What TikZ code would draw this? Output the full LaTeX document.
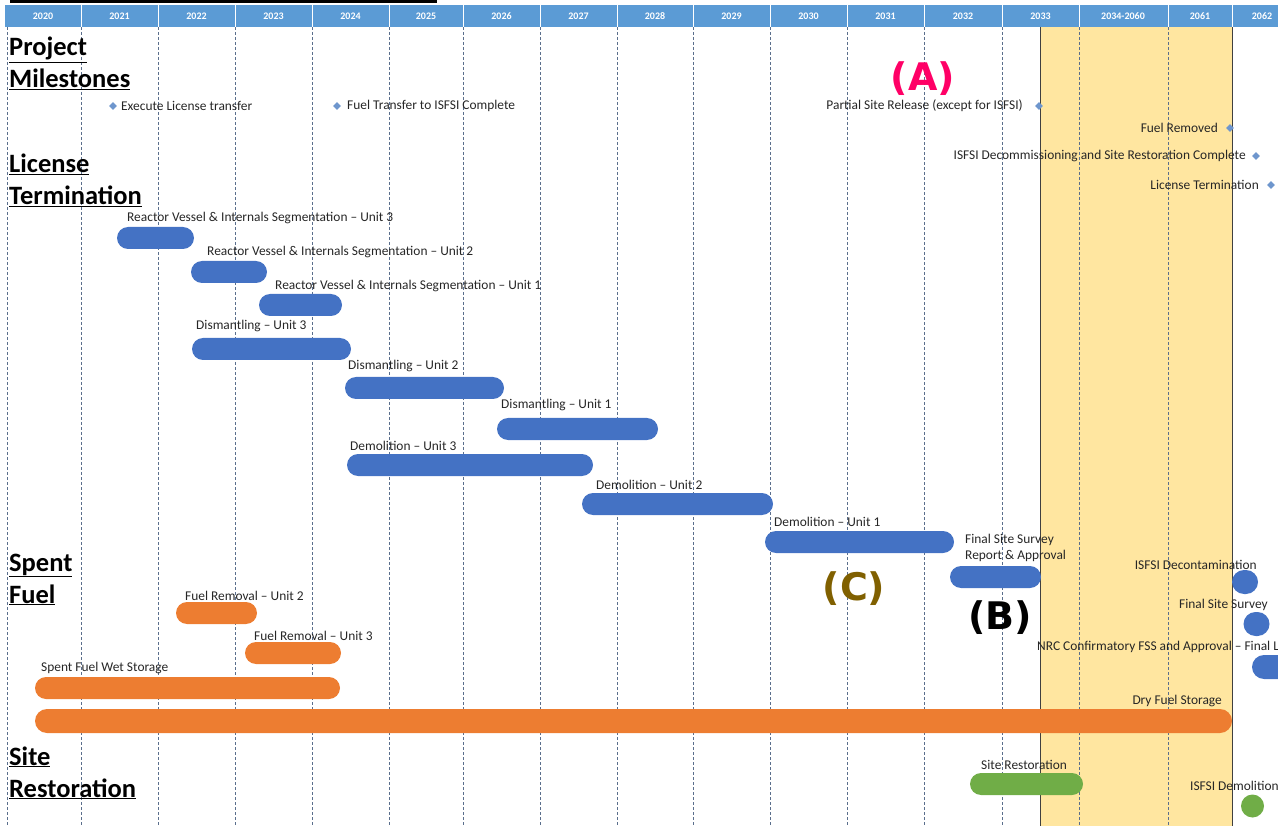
\documentclass[tikz,border=0pt]{standalone}
\usepackage{fontspec}
\setmainfont{Carlito}
\newfontfamily\tagfont{DejaVu Sans}
\usetikzlibrary{shapes.geometric,positioning}
\definecolor{hdrblue}{RGB}{91,155,213}
\definecolor{barblue}{RGB}{68,114,196}
\definecolor{barorange}{RGB}{237,125,49}
\definecolor{bargreen}{RGB}{112,173,71}
\definecolor{mileblue}{RGB}{110,150,205}
\definecolor{bandyellow}{RGB}{255,230,160}
\definecolor{gridgrey}{RGB}{90,110,140}
\definecolor{tagpink}{RGB}{255,0,102}
\definecolor{tagbrown}{RGB}{128,96,0}

\begin{document}
\begin{tikzpicture}[x=1pt, y=-1pt,
    gbar/.style={rectangle, rounded corners=11pt, minimum height=22pt, inner sep=0pt},
    blob/.style={rectangle, rounded corners=12pt, minimum height=24pt, minimum width=26pt, inner sep=0pt},
    lbl/.style={font=\fontsize{13.4}{16}\selectfont, inner sep=0pt, text=black!85},
    head/.style={font=\fontsize{26.5}{32}\selectfont\bfseries, align=left, inner sep=0pt, anchor=base west},
    mile/.style={diamond, fill=mileblue, minimum size=8pt, inner sep=0pt},
    yearlbl/.style={font=\fontsize{10}{11}\selectfont\bfseries, text=white},
    tagmark/.style={font=\tagfont\bfseries\fontsize{38}{40}\selectfont, inner sep=0pt},
    yearline/.style={gridgrey, line width=0.7pt, dash pattern=on 3pt off 2pt}]
\useasboundingbox (0,0) rectangle (1278,826);
% cut title rule at the very top
\draw[line width=3.5pt] (10,1.5) -- (437,1.5);
% 2033-2061 band
\fill[bandyellow] (1040,27) rectangle (1232,826);
% year grid
\foreach \gx in {7,81,158,235,312,389,463,540,617,693,770,847,924,1002,1079,1168}
  \draw[yearline] (\gx,27) -- (\gx,826);
\draw[black!75, line width=0.8pt] (1040,27) -- (1040,826);
\draw[black!75, line width=0.8pt] (1232,27) -- (1232,826);
% header row
\fill[hdrblue] (5,5) rectangle (1278,27);
\foreach \gx in {81,158,235,312,389,463,540,617,693,770,847,924,1002,1079,1168,1232}
  \draw[white, line width=0.8pt] (\gx,5) -- (\gx,27);
\foreach \yc/\yl [count=\i] in {43/2020,119.5/2021,196.5/2022,273.5/2023,350.5/2024,426/2025,501.5/2026,578.5/2027,655/2028,731.5/2029,808.5/2030,885.5/2031,963/2032,1040.5/2033,1123/2034-2060,1200/2061,1262/2062}
  \node[yearlbl] (yr\i) at (\yc,16) {\yl};
% section headings (base = last line)
\node[head] (hdMile) at (9,88) {\underline{Project}\\\underline{Milestones}};
\node[head] (hdLic) at (9,205) {\underline{License}\\\underline{Termination}};
\node[head] (hdFuel) at (9,603) {\underline{Spent}\\\underline{Fuel}};
\node[head] (hdSite) at (9,797) {\underline{Site}\\\underline{Restoration}};
% milestones
\node[mile] (msLic) at (113,106) {};
\node[lbl, anchor=west] (msLicT) at (121,106) {Execute License transfer};
\node[mile] (msFuel) at (337,106) {};
\node[lbl, anchor=west] (msFuelT) at (347,106) {Fuel Transfer to ISFSI Complete};
\node[mile] (msPart) at (1039,106) {};
\node[lbl, anchor=east] (msPartT) at (1023,106) {Partial Site Release (except for ISFSI)};
\node[mile] (msRem) at (1230,128) {};
\node[lbl, anchor=east] (msRemT) at (1218,128) {Fuel Removed};
\node[mile] (msDec) at (1256,156) {};
\node[lbl, anchor=east] (msDecT) at (1246,156) {ISFSI Decommissioning and Site Restoration Complete};
\node[mile] (msTerm) at (1271,185) {};
\node[lbl, anchor=east] (msTermT) at (1259,185) {License Termination};
% license termination bars
\node[gbar, fill=barblue, minimum width=77pt] (rv3) at (155.5,238) {};
\node[lbl, anchor=west] at (127,218) {Reactor Vessel \& Internals Segmentation – Unit 3};
\node[gbar, fill=barblue, minimum width=76pt] (rv2) at (229,272) {};
\node[lbl, anchor=west] at (207,252) {Reactor Vessel \& Internals Segmentation – Unit 2};
\node[gbar, fill=barblue, minimum width=83pt] (rv1) at (300.5,305) {};
\node[lbl, anchor=west] at (275,286) {Reactor Vessel \& Internals Segmentation – Unit 1};
\node[gbar, fill=barblue, minimum width=159pt] (dis3) at (271.5,349) {};
\node[lbl, anchor=west] at (196,326) {Dismantling – Unit 3};
\node[gbar, fill=barblue, minimum width=159pt] (dis2) at (424.5,388) {};
\node[lbl, anchor=west] at (348,366) {Dismantling – Unit 2};
\node[gbar, fill=barblue, minimum width=161pt] (dis1) at (577.5,429) {};
\node[lbl, anchor=west] at (501,405) {Dismantling – Unit 1};
\node[gbar, fill=barblue, minimum width=246pt] (dem3) at (470,465) {};
\node[lbl, anchor=west] at (350,446) {Demolition – Unit 3};
\node[gbar, fill=barblue, minimum width=191pt] (dem2) at (677.5,504) {};
\node[lbl, anchor=west] at (596,485) {Demolition – Unit 2};
\node[gbar, fill=barblue, minimum width=189pt] (dem1) at (859.5,542) {};
\node[lbl, anchor=west] at (774,522) {Demolition – Unit 1};
\node[gbar, fill=barblue, minimum width=91pt] (fss) at (995.5,577) {};
\node[lbl, anchor=west, align=left] at (965,548) {Final Site Survey\\Report \& Approval};
\node[blob, fill=barblue] (decon) at (1245,582) {};
\node[lbl, anchor=east] at (1257,565) {ISFSI Decontamination};
\node[blob, fill=barblue] (fss2) at (1256.5,624) {};
\node[lbl, anchor=east] at (1268,605) {Final Site Survey};
\node[blob, fill=barblue, minimum width=38pt] (nrc) at (1271,667) {};
\node[lbl, anchor=west] at (1037,647) {NRC Confirmatory FSS and Approval – Final L};
% spent fuel bars
\node[gbar, fill=barorange, minimum width=81pt] (fr2) at (216.5,613) {};
\node[lbl, anchor=west] at (185,596) {Fuel Removal – Unit 2};
\node[gbar, fill=barorange, minimum width=96pt] (fr3) at (293,653) {};
\node[lbl, anchor=west] at (254,636) {Fuel Removal – Unit 3};
\node[gbar, fill=barorange, minimum width=305pt] (wet) at (187.5,688) {};
\node[lbl, anchor=west] at (41,668) {Spent Fuel Wet Storage};
\node[gbar, fill=barorange, minimum width=1197pt, minimum height=24pt, rounded corners=12pt] (dry) at (633.5,721) {};
\node[lbl, anchor=east] at (1222,701) {Dry Fuel Storage};
% site restoration bars
\node[gbar, fill=bargreen, minimum width=113pt] (rest) at (1026.5,784) {};
\node[lbl, anchor=west] at (981,765) {Site Restoration};
\node[blob, fill=bargreen, minimum width=23pt, minimum height=23pt, rounded corners=11.5pt] (isdem) at (1252.5,806) {};
\node[lbl, anchor=west] at (1190,786) {ISFSI Demolition};
% callout tags
\node[tagmark, text=tagpink] (tagA) at (923,79) {(A)};
\node[tagmark, text=tagbrown] (tagC) at (854,589) {(C)};
\node[tagmark] (tagB) at (1000,618) {(B)};
\end{tikzpicture}
\end{document}
